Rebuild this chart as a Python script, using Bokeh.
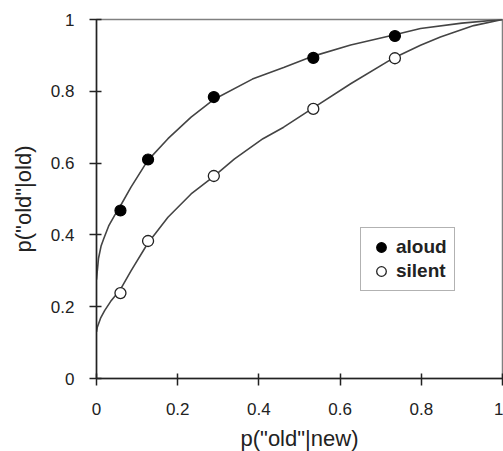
from bokeh.plotting import figure
from bokeh.models import FixedTicker, Legend, LegendItem
from bokeh.embed import file_html
from bokeh.resources import INLINE

# Observed data points
fa_rate = [0.059, 0.127, 0.289, 0.534, 0.735]
aloud_hits = [0.468, 0.610, 0.784, 0.893, 0.954]
silent_hits = [0.238, 0.383, 0.564, 0.751, 0.892]

# Fitted curves
aloud_curve_x = [0.0, 0.002, 0.005, 0.0115, 0.018, 0.03, 0.045, 0.057, 0.085, 0.126, 0.176,
                 0.233, 0.29, 0.384, 0.461, 0.534, 0.626, 0.732, 0.798, 0.9, 1.0]
aloud_curve_y = [0.275, 0.30, 0.335, 0.37, 0.39, 0.425, 0.455, 0.477, 0.533, 0.607, 0.668,
                 0.728, 0.778, 0.834, 0.866, 0.898, 0.929, 0.957, 0.975, 0.99, 1.0]
silent_curve_x = [0.0, 0.002, 0.01, 0.02, 0.035, 0.059, 0.085, 0.126, 0.176, 0.233, 0.289,
                  0.34, 0.41, 0.461, 0.534, 0.626, 0.732, 0.798, 0.847, 0.929, 1.0]
silent_curve_y = [0.13, 0.143, 0.168, 0.189, 0.215, 0.248, 0.30, 0.376, 0.449, 0.514, 0.563,
                  0.612, 0.668, 0.70, 0.754, 0.821, 0.893, 0.928, 0.951, 0.983, 1.0]

ticks = [0, 0.2, 0.4, 0.6, 0.8, 1.0]
tick_labels = {0: "0", 0.2: "0.2", 0.4: "0.4", 0.6: "0.6", 0.8: "0.8", 1.0: "1"}

FONT = "Liberation Sans"
TXT = "#222222"

p = figure(frame_width=406, frame_height=359, x_range=(0, 1), y_range=(0, 1),
           output_backend="svg", toolbar_location=None,
           min_border_left=96, min_border_top=19, min_border_right=1, min_border_bottom=73)
p.background_fill_color = "white"
p.border_fill_color = "white"
p.outline_line_color = "#808080"
p.outline_line_width = 1.5
p.xgrid.visible = False
p.ygrid.visible = False

for ax in (p.xaxis[0], p.yaxis[0]):
    ax.ticker = FixedTicker(ticks=ticks)
    ax.major_label_overrides = tick_labels
    ax.minor_tick_line_color = None
    ax.axis_line_color = "#222222"
    ax.axis_line_width = 1.5
    ax.major_tick_line_color = "#222222"
    ax.major_tick_line_width = 1.5
    ax.major_tick_in = 5
    ax.major_tick_out = 7
    ax.major_label_text_font = FONT
    ax.major_label_text_font_size = "17px"
    ax.major_label_text_color = TXT
    ax.axis_label_text_font = FONT
    ax.axis_label_text_font_size = "22px"
    ax.axis_label_text_font_style = "normal"
    ax.axis_label_text_color = TXT

p.xaxis.axis_label = 'p("old"|new)'
p.yaxis.axis_label = 'p("old"|old)'
p.xaxis.major_label_standoff = 17
p.yaxis.major_label_standoff = 15
p.xaxis.axis_label_standoff = 8
p.yaxis.axis_label_standoff = 12

p.line(aloud_curve_x, aloud_curve_y, line_color="#444444", line_width=1.6)
p.line(silent_curve_x, silent_curve_y, line_color="#444444", line_width=1.6)

r_aloud = p.scatter(fa_rate, aloud_hits, marker="circle", size=11,
                    fill_color="black", line_color="black", line_width=1.2)
r_silent = p.scatter(fa_rate, silent_hits, marker="circle", size=11,
                     fill_color="white", line_color="#222222", line_width=1.3)

legend = Legend(items=[LegendItem(label="aloud", renderers=[r_aloud]),
                       LegendItem(label="silent", renderers=[r_silent])],
                location=(264, 87))
legend.border_line_color = "#666666"
legend.border_line_width = 1.5
legend.background_fill_color = "white"
legend.background_fill_alpha = 1.0
legend.padding = 7
legend.margin = 0
legend.spacing = 0
legend.glyph_width = 26
legend.glyph_height = 24
legend.label_height = 24
legend.label_standoff = 2
legend.label_text_font = FONT
legend.label_text_font_size = "19px"
legend.label_text_font_style = "bold"
legend.label_text_color = TXT
p.add_layout(legend, "center")

open("out.html", "w").write(file_html(p, INLINE))
